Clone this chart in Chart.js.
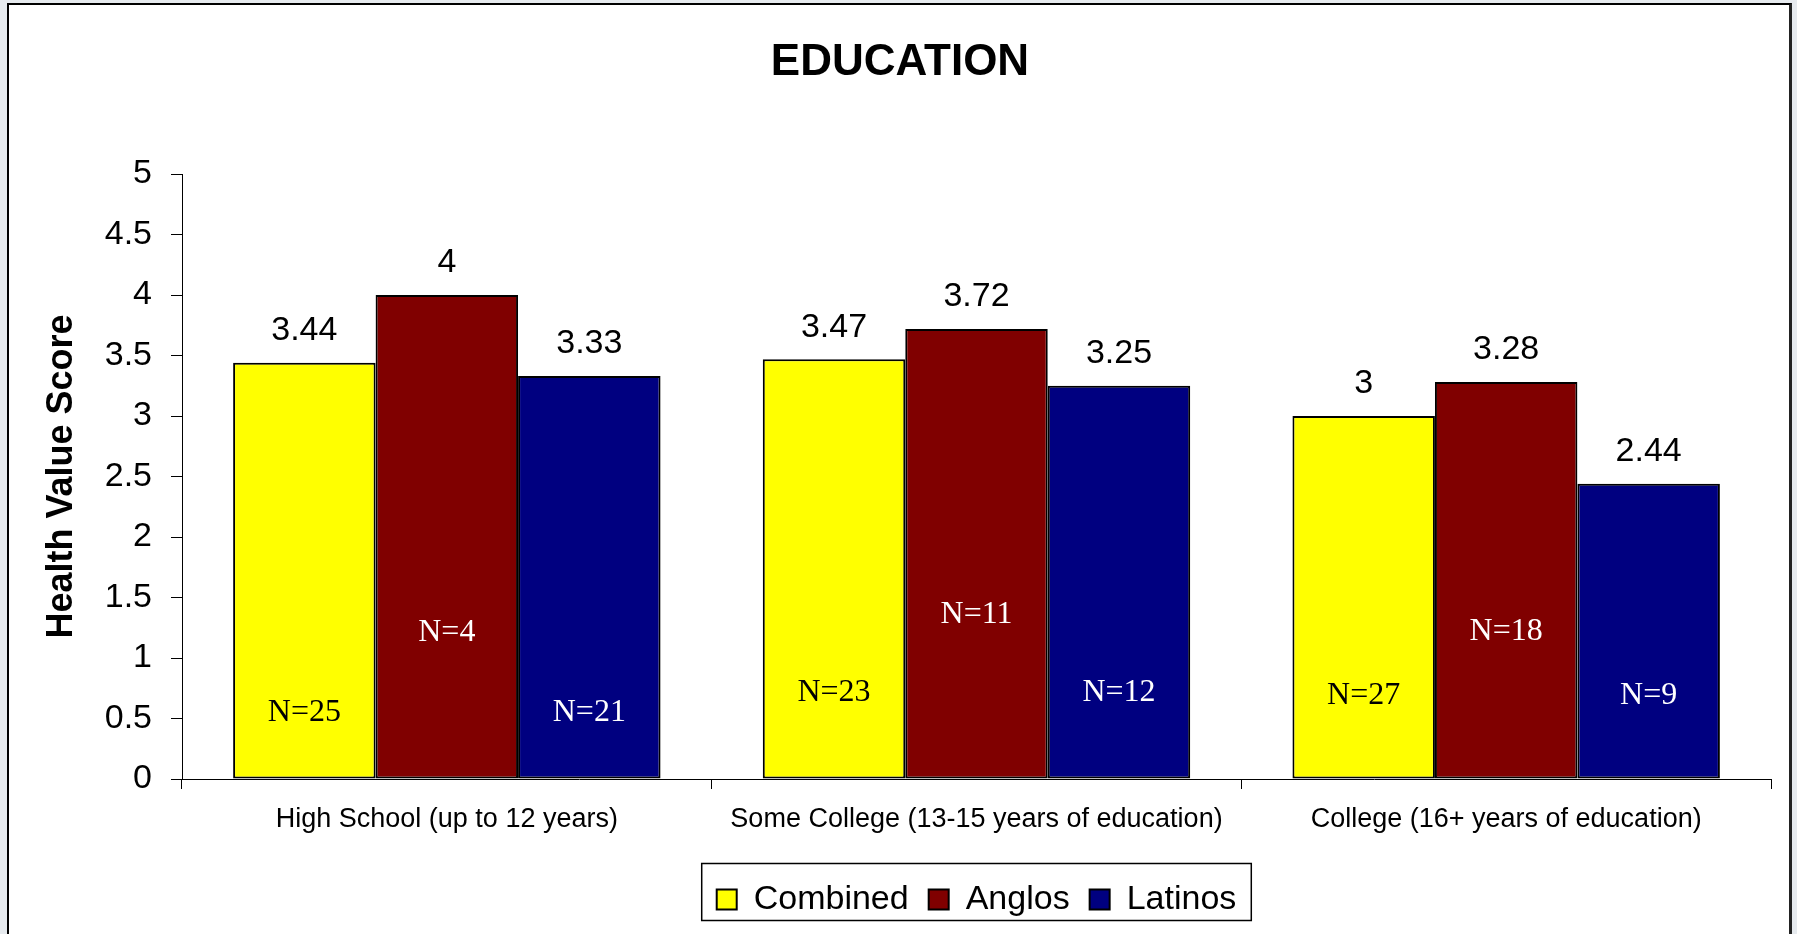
<!DOCTYPE html>
<html>
<head>
<meta charset="utf-8">
<script src="https://cdn.jsdelivr.net/npm/chart.js@4.4.1/dist/chart.umd.min.js"></script>
<style>
    html, body { margin: 0; padding: 0; width: 1797px; height: 934px; overflow: hidden; background: #e6eaee; }
    #frame { position: absolute; left: 7px; top: 3px; width: 1780px; height: 1000px; background: #fff;
             border-left: 2px solid #000; border-top: 2px solid #000; border-right: 3px solid #222; }
    #wrap { position: absolute; left: 0; top: 0; width: 1797px; height: 934px; }
</style>
</head>
<body>
<div id="frame"></div>
<div id="wrap"><canvas id="eduChart"></canvas></div>
<script>
const categories = ['High School (up to 12 years)', 'Some College (13-15 years of education)', 'College (16+ years of education)'];
const combined = [3.44, 3.47, 3.00];
const anglos = [4.00, 3.72, 3.28];
const latinos = [3.33, 3.25, 2.44];
const combinedN = [25, 23, 27];
const anglosN = [4, 11, 18];
const latinosN = [21, 12, 9];
const yTicks = [0, 0.5, 1, 1.5, 2, 2.5, 3, 3.5, 4, 4.5, 5];

// where the N= labels sit inside each bar (in axis units)
const nLabelAt = [
    [0.55, 0.71, 0.69],
    [1.21, 1.36, 1.22],
    [0.55, 0.71, 0.69]
];

const sans = '"Liberation Sans", Arial, sans-serif';
const serif = '"Liberation Serif", "Times New Roman", serif';

const barLabels = {
    id: 'barLabels',
    afterDatasetsDraw(chart) {
        const ctx = chart.ctx;
        const y = chart.scales.y;
        ctx.save();
        ctx.textAlign = 'center';
        ctx.textBaseline = 'middle';
        chart.data.datasets.forEach((ds, di) => {
            const meta = chart.getDatasetMeta(di);
            meta.data.forEach((bar, i) => {
                ctx.font = '34px ' + sans;
                ctx.fillStyle = '#000';
                ctx.fillText(String(ds.data[i]), bar.x, bar.y - 32);
                ctx.font = '32px ' + serif;
                ctx.fillStyle = ds.nColor;
                ctx.fillText('N=' + ds.counts[i], bar.x, y.getPixelForValue(nLabelAt[di][i]));
            });
        });
        ctx.restore();
    }
};

const legendFrame = {
    id: 'legendFrame',
    afterDraw(chart) {
        const boxes = chart.legend.legendHitBoxes;
        if (!boxes || !boxes.length) return;
        const first = boxes[0], last = boxes[boxes.length - 1];
        const ctx = chart.ctx;
        ctx.save();
        ctx.strokeStyle = '#000';
        ctx.lineWidth = 1.5;
        ctx.strokeRect(first.left - 15, first.top - 19, last.left + last.width - first.left + 30, 57);
        ctx.restore();
    }
};

const ctx = document.getElementById('eduChart').getContext('2d');
new Chart(ctx, {
    type: 'bar',
    data: {
        labels: categories,
        datasets: [
            { label: 'Combined', data: combined, counts: combinedN, nColor: '#000',
              backgroundColor: '#ffff00', borderColor: '#000', borderWidth: 2, borderSkipped: false },
            { label: 'Anglos', data: anglos, counts: anglosN, nColor: '#fff',
              backgroundColor: '#800000', borderColor: '#000', borderWidth: 2, borderSkipped: false },
            { label: 'Latinos', data: latinos, counts: latinosN, nColor: '#fff',
              backgroundColor: '#000080', borderColor: '#000', borderWidth: 2, borderSkipped: false }
        ]
    },
    options: {
        responsive: true,
        maintainAspectRatio: false,
        animation: false,
        layout: { padding: { left: 3, right: 0, top: 0, bottom: 7.5 } },
        datasets: { bar: { categoryPercentage: 0.807, barPercentage: 1.0 } },
        plugins: {
            title: {
                display: true,
                text: 'EDUCATION',
                color: '#000',
                font: { family: sans, size: 44, weight: 'bold' },
                padding: { top: 36, bottom: 85.2 }
            },
            legend: {
                position: 'bottom',
                fullSize: false,
                labels: {
                    color: '#000',
                    font: { family: sans, size: 34 },
                    boxWidth: 20,
                    boxHeight: 20,
                    padding: 20
                }
            },
            tooltip: { enabled: false }
        },
        scales: {
            x: {
                grid: { display: true, offset: true, drawOnChartArea: false, tickLength: 10, color: '#000' },
                border: { display: true, color: '#000', width: 1 },
                ticks: { color: '#000', font: { family: sans, size: 27 }, padding: 14, maxRotation: 0, autoSkip: false },
                afterFit(scale) { scale.height = 83.5; }
            },
            y: {
                min: 0,
                max: 5,
                afterBuildTicks(scale) { scale.ticks = yTicks.map(v => ({ value: v })); },
                grid: { drawOnChartArea: false, tickLength: 11, color: '#000' },
                border: { display: true, color: '#000', width: 1 },
                ticks: { color: '#000', font: { family: sans, size: 34 }, padding: 19, callback: v => String(v) },
                title: {
                    display: true,
                    text: 'Health Value Score',
                    color: '#000',
                    font: { family: sans, size: 36, weight: 'bold' },
                    padding: { top: 37, bottom: 0 }
                },
                afterFit(scale) { scale.width = 179; }
            },
            // empty right-hand scale, only keeps the plot clear of the right edge
            yRight: {
                position: 'right',
                display: true,
                grid: { display: false },
                border: { display: false },
                ticks: { display: false },
                afterFit(scale) { scale.width = 26; }
            }
        }
    },
    plugins: [barLabels, legendFrame]
});
</script>
</body>
</html>
